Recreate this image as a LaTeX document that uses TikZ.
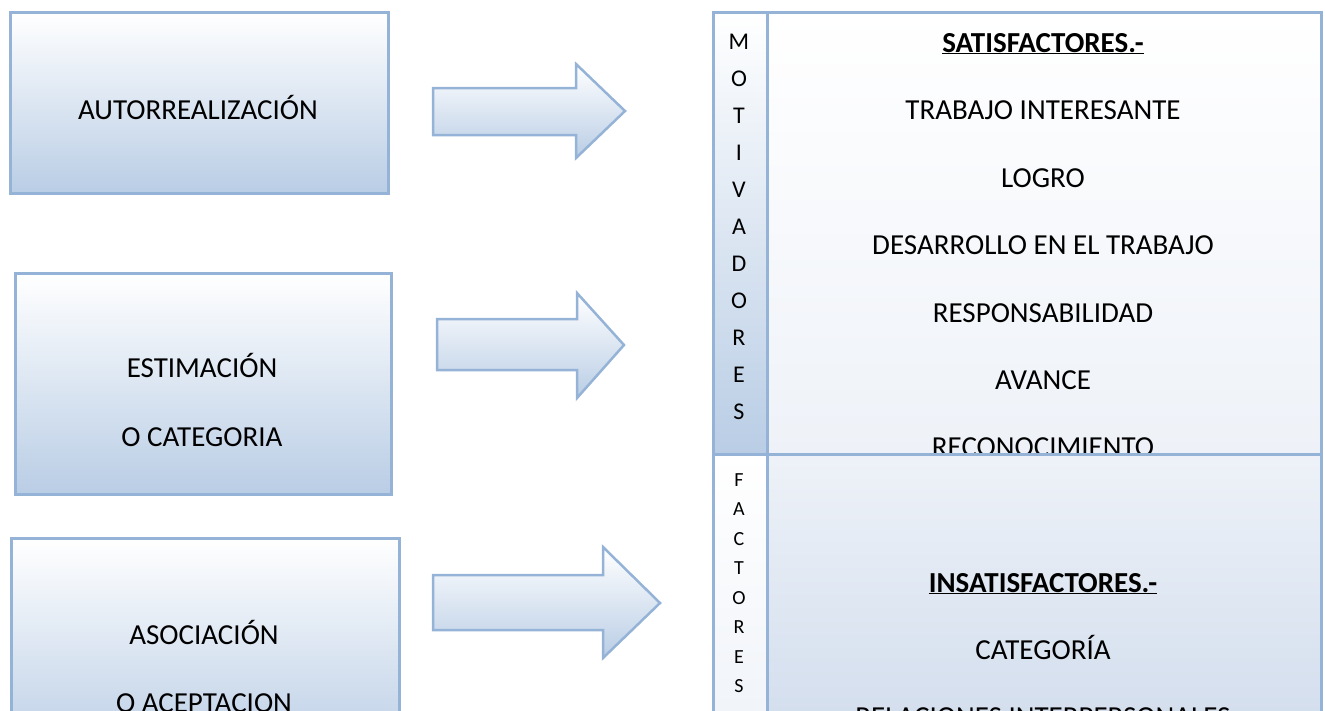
\documentclass[tikz,border=0pt]{standalone}
\usepackage{fontspec}
\setmainfont{Carlito}
\usepackage{tikz}

\definecolor{borde}{HTML}{95B3D7}
\definecolor{azulclaro}{HTML}{B9CDE5}
\definecolor{azulpalido}{HTML}{EEF2F8}
\definecolor{azulmedio}{HTML}{CFDBEC}

\begin{document}
\begin{tikzpicture}[
    x=1pt, y=-1pt,
    caja/.style={draw=borde, line width=2.5pt, top color=white, bottom color=azulclaro, anchor=north west, inner sep=0pt},
    flecha/.style={draw=borde, line width=2.5pt, top color=white, bottom color=azulclaro},
    celda/.style={draw=borde, line width=2.5pt, anchor=north west, inner sep=0pt},
    txt/.style={font=\fontsize{29}{35}\selectfont, anchor=base, inner sep=0pt},
    tit/.style={txt, font=\fontsize{29}{35}\selectfont\bfseries},
    vert/.style={align=center, anchor=north, inner sep=0pt}
]

\useasboundingbox (0,0) rectangle (1325,710);
\clip (0,0) rectangle (1325,710);

% niveles de la izquierda
\node[caja, minimum width=378pt, minimum height=181pt] (autor) at (9,11) {};
\node[caja, minimum width=376pt, minimum height=221pt] (estim) at (14,272) {};
\node[caja, minimum width=388pt, minimum height=221pt] (asoc) at (10,537) {};

\node[txt] (autorT) at (198,119) {AUTORREALIZACIÓN};
\node[txt] (estimA) at (202,377) {ESTIMACIÓN};
\node[txt] (estimB) at (202,446) {O CATEGORIA};
\node[txt] (asocA) at (204,644) {ASOCIACIÓN};
\node[txt] (asocB) at (204,712) {O ACEPTACION};

% flechas
\draw[flecha] (433,88) -- (576,88) -- (576,64) -- (625,111) -- (576,158) -- (576,135) -- (433,135) -- cycle;
\draw[flecha] (437,319) -- (577,319) -- (577,293) -- (624,345) -- (577,398) -- (577,370) -- (437,370) -- cycle;
\draw[flecha] (433,575) -- (603,575) -- (603,547) -- (660,603) -- (603,658) -- (603,630) -- (433,630) -- cycle;

% tabla: motivadores
\node[celda, top color=white, bottom color=azulclaro, minimum width=54pt, minimum height=442pt] (motiv) at (712,11) {};
\node[celda, top color=white, bottom color=azulpalido, minimum width=554pt, minimum height=442pt] (satis) at (766,11) {};

\node[vert, font=\fontsize{24}{37}\selectfont] (motivL) at (739,34) {M\\O\\T\\I\\V\\A\\D\\O\\R\\E\\S};

\node[tit] (s0) at (1043,52) {\underline{SATISFACTORES.-}};
\node[txt] (s1) at (1043,119) {TRABAJO INTERESANTE};
\node[txt] (s2) at (1043,187) {LOGRO};
\node[txt] (s3) at (1043,254) {DESARROLLO EN EL TRABAJO};
\node[txt] (s4) at (1043,322) {RESPONSABILIDAD};
\node[txt] (s5) at (1043,389) {AVANCE};
\node[txt] (s6) at (1043,456) {RECONOCIMIENTO};

% tabla: factores
\node[celda, top color=white, bottom color=azulpalido, minimum width=54pt, minimum height=307pt] (fact) at (712,453) {};
\node[celda, top color=azulpalido, bottom color=azulmedio, minimum width=554pt, minimum height=307pt] (insat) at (766,453) {};

\node[vert, font=\fontsize{20}{29.5}\selectfont] (factL) at (739,473) {F\\A\\C\\T\\O\\R\\E\\S};

\node[tit] (i0) at (1043,592) {\underline{INSATISFACTORES.-}};
\node[txt] (i1) at (1043,659) {CATEGORÍA};
\node[txt] (i2) at (1043,726) {RELACIONES INTERPERSONALES};

\end{tikzpicture}
\end{document}
